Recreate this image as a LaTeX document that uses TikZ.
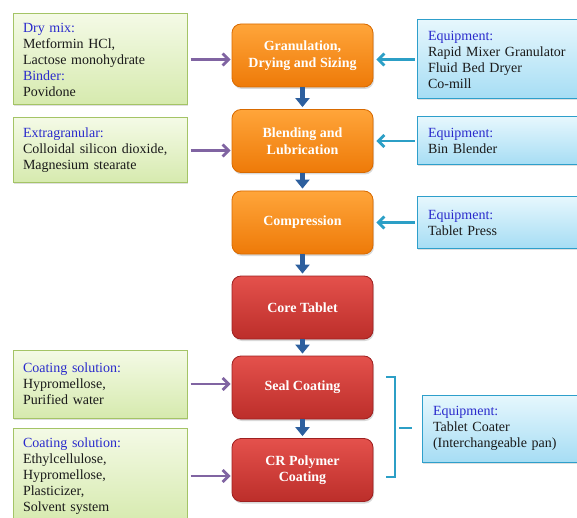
\documentclass[tikz,border=0pt]{standalone}
\usepackage{fontspec}
\setmainfont{Liberation Serif}
\usetikzlibrary{arrows.meta,shadows}
\definecolor{lbl}{HTML}{2A2ACC}
\definecolor{txt}{HTML}{1A1A1A}
\definecolor{gtop}{HTML}{F4FAE6}
\definecolor{gbot}{HTML}{D6EAAE}
\definecolor{gbord}{HTML}{A4C466}
\definecolor{btop}{HTML}{E6F7FD}
\definecolor{bbot}{HTML}{A6DDF4}
\definecolor{bbord}{HTML}{2E9FCB}
\definecolor{otop}{HTML}{FFA53A}
\definecolor{obot}{HTML}{EE7A08}
\definecolor{obord}{HTML}{D86A00}
\definecolor{rtop}{HTML}{E4514C}
\definecolor{rbot}{HTML}{BC2E2A}
\definecolor{rbord}{HTML}{9E2020}
\definecolor{purp}{HTML}{8064A2}
\definecolor{cyanarr}{HTML}{2C9FC6}
\definecolor{darr}{HTML}{2D5F9E}
\tikzset{
  x=1pt,y=-1pt,
  base/.style={font=\fontsize{14}{16}\selectfont, text=txt, align=left, inner xsep=10pt, inner ysep=0pt, anchor=center},
  greenbox/.style={base, draw=gbord, line width=1pt, top color=gtop, bottom color=gbot, text width=154pt, minimum width=174pt,
    drop shadow={shadow xshift=1pt, shadow yshift=-1.5pt, opacity=0.25}},
  bluebox/.style={base, draw=bbord, line width=1pt, top color=btop, bottom color=bbot, text width=170pt, minimum width=190pt, inner xsep=11pt,
    drop shadow={shadow xshift=1pt, shadow yshift=-1.5pt, opacity=0.25}},
  procbox/.style={rounded corners=9pt, minimum width=141pt, minimum height=63pt, align=center, text=white,
    font=\fontsize{14}{16.5}\selectfont\bfseries, line width=0.8pt, inner sep=2pt,
    drop shadow={shadow xshift=1pt, shadow yshift=-2pt, opacity=0.3}},
  orangebox/.style={procbox, draw=obord, top color=otop, bottom color=obot},
  redbox/.style={procbox, draw=rbord, top color=rtop, bottom color=rbot},
  inarrow/.style={draw=purp, line width=2.8pt, -{Straight Barb[length=6pt,width=12pt,line width=2.8pt]}},
  eqarrow/.style={draw=cyanarr, line width=2.8pt, -{Straight Barb[length=6pt,width=12pt,line width=2.8pt]}},
  flowarrow/.style={draw=darr, line width=5.5pt, -{Triangle[length=9pt,width=14pt]}, shorten >=2pt},
}
\newcommand{\lab}[1]{\textcolor{lbl}{#1}}
\begin{document}
\begin{tikzpicture}
\useasboundingbox (0,0) rectangle (577,518);
% process boxes
\node[orangebox] (gran) at (302.5,55.5) {Granulation,\\Drying and Sizing};
\node[orangebox] (blend) at (302.5,141) {Blending and\\Lubrication};
\node[orangebox] (comp) at (302.5,222.5) {Compression};
\node[redbox] (core) at (302.5,307.5) {Core Tablet};
\node[redbox] (seal) at (302.5,387.5) {Seal Coating};
\node[redbox] (cr) at (302.5,470) {CR Polymer\\Coating};
% input boxes
\node[greenbox, minimum height=91pt] (in1) at (100,59.5) {\lab{Dry mix:}\\Metformin HCl,\\Lactose monohydrate\\\lab{Binder:}\\Povidone};
\node[greenbox, minimum height=65pt] (in2) at (100,150.5) {\lab{Extragranular:}\\Colloidal silicon dioxide,\\Magnesium stearate};
\node[greenbox, minimum height=68pt] (in3) at (100,384) {\lab{Coating solution:}\\Hypromellose,\\Purified water};
\node[greenbox, minimum height=96pt] (in4) at (100,476) {\lab{Coating solution:}\\Ethylcellulose,\\Hypromellose,\\Plasticizer,\\Solvent system};
% equipment boxes
\node[bluebox, minimum height=79pt] (eq1) at (513,59.5) {\lab{Equipment:}\\Rapid Mixer Granulator\\Fluid Bed Dryer\\Co-mill};
\node[bluebox, minimum height=48pt] (eq2) at (513,141) {\lab{Equipment:}\\Bin Blender};
\node[bluebox, minimum height=51pt] (eq3) at (513,222.5) {\lab{Equipment:}\\Tablet Press};
\node[bluebox, minimum height=67pt] (eq4) at (518,428.5) {\lab{Equipment:}\\Tablet Coater\\(Interchangeable pan)};
% flow arrows
\draw[flowarrow] (gran) -- (blend);
\draw[flowarrow] (blend) -- (comp);
\draw[flowarrow] (comp) -- (core);
\draw[flowarrow] (core) -- (seal);
\draw[flowarrow] (seal) -- (cr);
% input arrows
\draw[inarrow] ([xshift=3pt]in1.east) -- ([xshift=-1pt]gran.west |- in1.east);
\draw[inarrow] ([xshift=3pt]in2.east) -- ([xshift=-1pt]blend.west |- in2.east);
\draw[inarrow] ([xshift=3pt]in3.east) -- ([xshift=-1pt]seal.west |- in3.east);
\draw[inarrow] ([xshift=3pt]in4.east) -- ([xshift=-1pt]cr.west |- in4.east);
% equipment arrows
\draw[eqarrow] ([xshift=-2pt]eq1.west) -- ([xshift=3pt]gran.east |- eq1.west);
\draw[eqarrow] ([xshift=-2pt]eq2.west) -- ([xshift=3pt]blend.east);
\draw[eqarrow] ([xshift=-2pt]eq3.west) -- ([xshift=3pt]comp.east);
% bracket
\coordinate (bt) at (386,377);
\coordinate (bb) at (386,477);
\coordinate (bm) at (399,428);
\draw[cyanarr, line width=2.4pt] (bt) -- ++(9,0) |- (bb);
\draw[cyanarr, line width=2.4pt] (bm) -- ([xshift=-10pt]eq4.west |- bm);
\end{tikzpicture}
\end{document}
